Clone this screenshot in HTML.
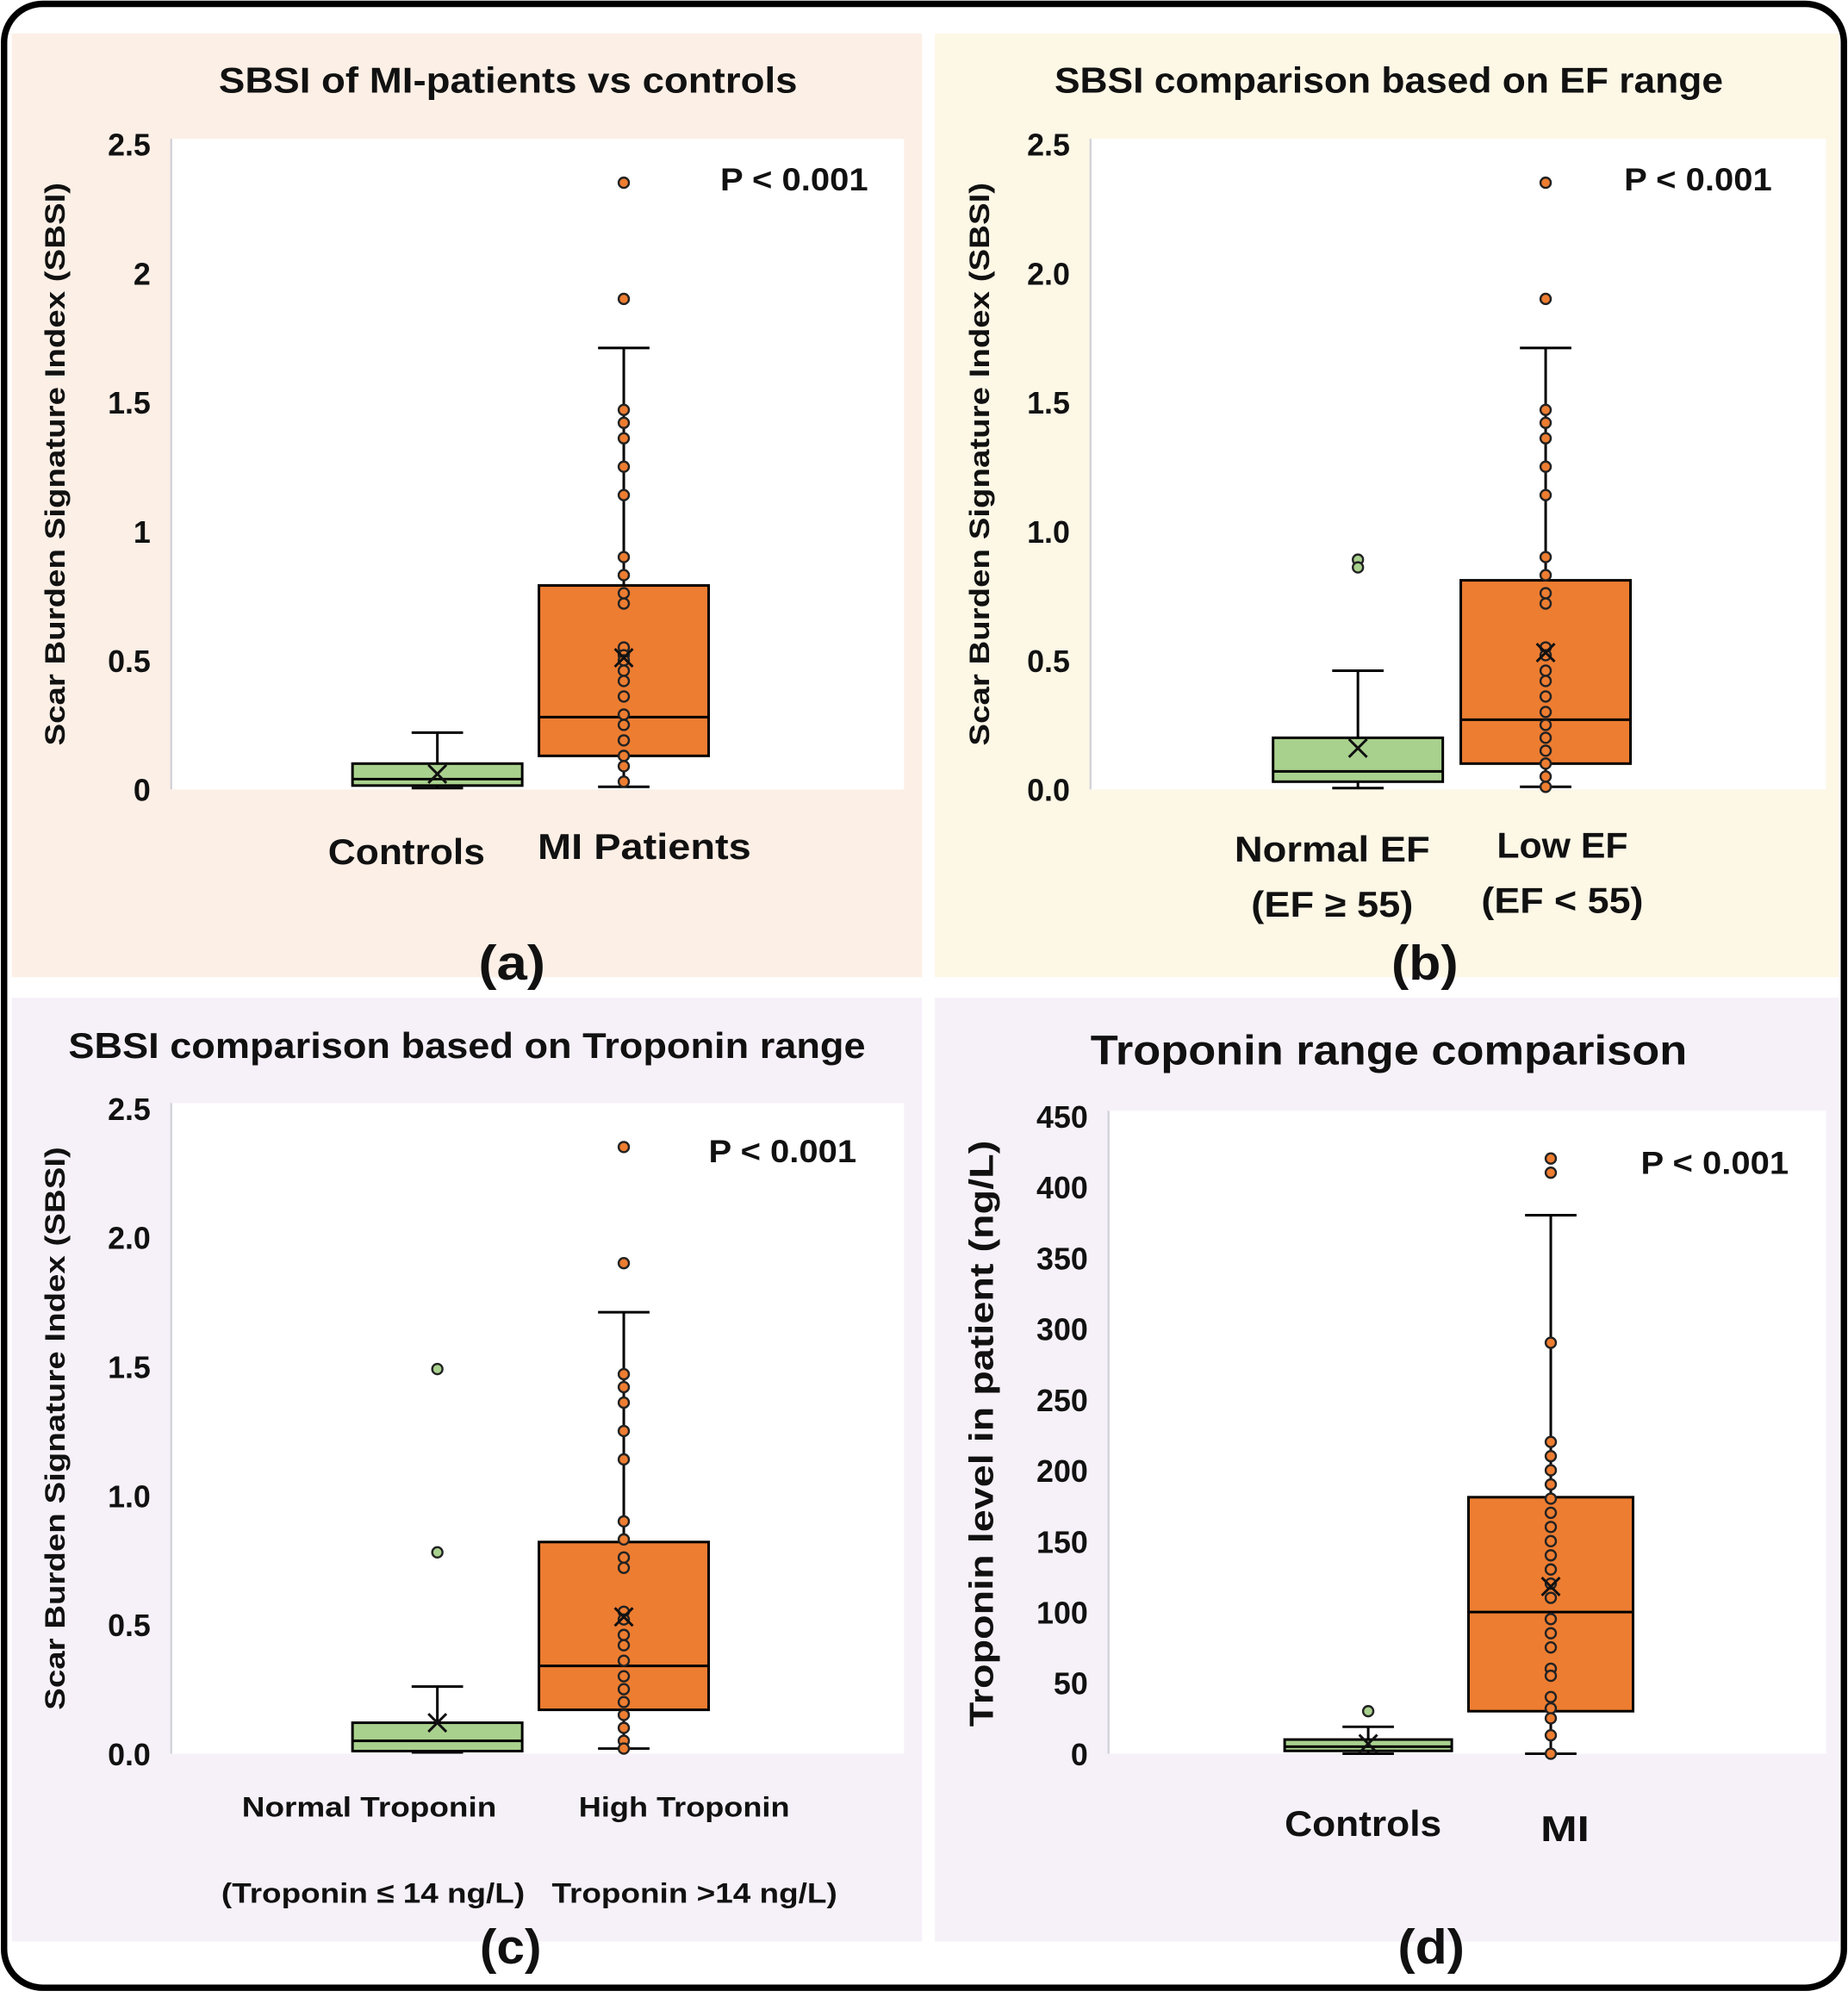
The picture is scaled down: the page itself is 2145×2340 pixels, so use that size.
<!DOCTYPE html>
<html><head><meta charset="utf-8"><style>
html,body{margin:0;padding:0;background:#fff}
svg{display:block}
text{font-family:"Liberation Sans",sans-serif;font-weight:bold;fill:#111}
</style></head><body>
<svg id="fig" width="2145" height="2340" viewBox="0 0 1437 1568" xmlns="http://www.w3.org/2000/svg">
<rect x="3" y="3" width="1431" height="1543" rx="30" fill="#fff" stroke="#000" stroke-width="5"/>
<rect x="9" y="26" width="708" height="734" fill="#fcefe6"/>
<rect x="727" y="26" width="703" height="734" fill="#fdf7e6"/>
<rect x="9" y="776" width="708" height="734" fill="#f6f1f8"/>
<rect x="727" y="776" width="703" height="734" fill="#f6f1f8"/>
<g id="charts"></g>
</svg>
<script>
// ---- data ----
const aCategories = ["Controls","MI Patients"];
const aStats = [[0.005,0.015,0.04,0.10,0.22,0.06],[0.01,0.13,0.28,0.79,1.71,0.51]];
const aPointsCtrl = [];
const aPointsMI = [2.35,1.9,1.47,1.42,1.36,1.25,1.14,0.9,0.83,0.76,0.72,0.55,0.52,0.5,0.46,0.42,0.36,0.29,0.25,0.19,0.13,0.09,0.03];
const aTicks = ["0","0.5","1","1.5","2","2.5"];
const bStats = [[0.005,0.03,0.07,0.20,0.46,0.16],[0.01,0.10,0.27,0.81,1.71,0.53]];
const bPointsNormal = [0.89,0.86];
const bPointsLow = [2.35,1.9,1.47,1.42,1.36,1.25,1.14,0.9,0.83,0.76,0.72,0.55,0.52,0.46,0.42,0.36,0.3,0.25,0.2,0.15,0.1,0.05,0.01];
const bcTicks = ["0.0","0.5","1.0","1.5","2.0","2.5"];
const cStats = [[0.005,0.01,0.05,0.12,0.26,0.12],[0.02,0.17,0.34,0.82,1.71,0.53]];
const cPointsNormal = [1.49,0.78];
const cPointsHigh = [2.35,1.9,1.47,1.42,1.36,1.25,1.14,0.9,0.83,0.76,0.72,0.55,0.52,0.46,0.42,0.36,0.3,0.25,0.2,0.15,0.1,0.05,0.02];
const dStats = [[0,2,5,10,19,7],[0,30,100,181,380,118]];
const dPointsCtrl = [30];
const dPointsMI = [420,410,290,220,210,200,190,180,170,160,150,140,130,120,110,95,85,75,60,55,40,32,25,13,0];
const dTicks = ["0","50","100","150","200","250","300","350","400","450"];

const NS="http://www.w3.org/2000/svg";
const root=document.getElementById('charts');
function mk(tag,attrs,parent,txt){const e=document.createElementNS(NS,tag);for(const k in attrs)e.setAttribute(k,attrs[k]);if(txt!==undefined)e.textContent=txt;(parent||root).appendChild(e);return e;}

function chart(cfg){
  const g=mk('g',{});
  
  
  const pa=mk('rect',{x:cfg.x0,y:cfg.yTop,width:cfg.x1-cfg.x0,height:cfg.y0-cfg.yTop,fill:'#fff'},g);
  
  
  const ax=mk('line',{x1:cfg.x0,y1:cfg.yTop,x2:cfg.x0,y2:cfg.y0,stroke:'#d0d0d8','stroke-width':1.5},g);
  
  
  const Y=v=>cfg.y0-(v/cfg.max)*(cfg.y0-cfg.yMaxPix);
  cfg.ticks.forEach((t,i)=>{
    const v=i*cfg.step;
    const tl=mk('text',{x:cfg.x0-16,y:Y(v)+9,'text-anchor':'end','font-size':cfg.tickSize},g,t);
    
    
  });
  cfg.boxes.forEach((b,i)=>{
    const s=b.stats, cx=b.cx, hw=b.hw, fill=b.color;
    const bg=mk('g',{},g);
    
    
    mk('line',{x1:cx,y1:Y(s[4]),x2:cx,y2:Y(s[0]),stroke:'#000','stroke-width':2},bg);
    mk('line',{x1:cx-20,y1:Y(s[4]),x2:cx+20,y2:Y(s[4]),stroke:'#000','stroke-width':2},bg);
    mk('line',{x1:cx-20,y1:Y(s[0]),x2:cx+20,y2:Y(s[0]),stroke:'#000','stroke-width':2},bg);
    mk('rect',{x:cx-hw,y:Y(s[3]),width:2*hw,height:Math.max(1,Y(s[1])-Y(s[3])),fill:fill,stroke:'#000','stroke-width':2},bg);
    mk('line',{x1:cx-hw,y1:Y(s[2]),x2:cx+hw,y2:Y(s[2]),stroke:'#000','stroke-width':2},bg);
    b.pts.forEach(p=>{
      const c=mk('circle',{cx:cx,cy:Y(p),r:4,fill:fill,stroke:'#222','stroke-width':1.6},bg);
      
      
    });
    const my=Y(s[5]);
    mk('path',{d:`M${cx-7} ${my-7}L${cx+7} ${my+7}M${cx+7} ${my-7}L${cx-7} ${my+7}`,stroke:'#111','stroke-width':2},bg);
  });
}

chart({name:'chart-a',x0:133,x1:703,yTop:108,y0:614,yMaxPix:112,max:2.5,step:0.5,ticks:aTicks,tickSize:24,
  boxes:[{cx:340,hw:66,stats:aStats[0],pts:aPointsCtrl,color:'#a9d18e'},{cx:485,hw:66,stats:aStats[1],pts:aPointsMI,color:'#ed7d31'}]});
chart({name:'chart-b',x0:848,x1:1420,yTop:108,y0:614,yMaxPix:112,max:2.5,step:0.5,ticks:bcTicks,tickSize:24,
  boxes:[{cx:1056,hw:66,stats:bStats[0],pts:bPointsNormal,color:'#a9d18e'},{cx:1202,hw:66,stats:bStats[1],pts:bPointsLow,color:'#ed7d31'}]});
chart({name:'chart-c',x0:133,x1:703,yTop:858,y0:1364,yMaxPix:862,max:2.5,step:0.5,ticks:bcTicks,tickSize:24,
  boxes:[{cx:340,hw:66,stats:cStats[0],pts:cPointsNormal,color:'#a9d18e'},{cx:485,hw:66,stats:cStats[1],pts:cPointsHigh,color:'#ed7d31'}]});
chart({name:'chart-d',x0:862,x1:1420,yTop:864,y0:1364,yMaxPix:868,max:450,step:50,ticks:dTicks,tickSize:24,
  boxes:[{cx:1064,hw:65,stats:dStats[0],pts:dPointsCtrl,color:'#a9d18e'},{cx:1206,hw:64,stats:dStats[1],pts:dPointsMI,color:'#ed7d31'}]});

function label(txt,x,y,size,name,len,rot){
  const a={x:x,y:y,'text-anchor':'middle','font-size':size};
  if(len){a.textLength=len;a.lengthAdjust='spacingAndGlyphs';}
  if(rot)a.transform=`rotate(-90 ${x} ${y})`;
  const t=mk('text',a,root,txt);
  
  
}
label("SBSI of MI-patients vs controls",395,72,28,'title-a',450);
label("SBSI comparison based on EF range",1080,72,28,'title-b',520);
label("SBSI comparison based on Troponin range",363,823,28,'title-c',620);
label("Troponin range comparison",1080,828,32,'title-d',464);
label("Scar Burden Signature Index (SBSI)",50,361,22,'y-axis-title-a',438,true);
label("Scar Burden Signature Index (SBSI)",769,361,22,'y-axis-title-b',438,true);
label("Scar Burden Signature Index (SBSI)",50,1111,22,'y-axis-title-c',438,true);
label("Troponin level in patient (ng/L)",772,1115,26,'y-axis-title-d',456,true);
[[560,139],[1263,139],[551,895],[1276,904]].forEach((p,i)=>{
  const t=mk('text',{x:p[0],y:p[1]+9,'font-size':25,textLength:115,lengthAdjust:'spacingAndGlyphs'},root,"P < 0.001");
  
  
});
label("Controls",316,672,28,'x-label-controls',122);
label("MI Patients",501,668,28,'x-label-mi-patients',166);
label("Normal EF",1036,670,28,'x-label-normal-ef',152);
label("(EF ≥ 55)",1036,713,28,'x-label-normal-ef-range',126);
label("Low EF",1215,667,28,'x-label-low-ef',102);
label("(EF < 55)",1215,710,28,'x-label-low-ef-range',126);
label("Normal Troponin",287,1413,22,'x-label-normal-troponin',198);
label("High Troponin",532,1413,22,'x-label-high-troponin',164);
label("(Troponin ≤ 14 ng/L)",290,1480,22,'x-label-normal-troponin-range',236);
label("Troponin >14 ng/L)",540,1480,22,'x-label-high-troponin-range',222);
label("Controls",1060,1428,28,'x-label-controls-d',122);
label("MI",1217,1432,28,'x-label-mi',38);
label("(a)",398,762,38,'panel-label-a',52);
label("(b)",1108,762,38,'panel-label-b',52);
label("(c)",397,1527,38,'panel-label-c',48);
label("(d)",1113,1527,38,'panel-label-d',52);
</script>
</body></html>
